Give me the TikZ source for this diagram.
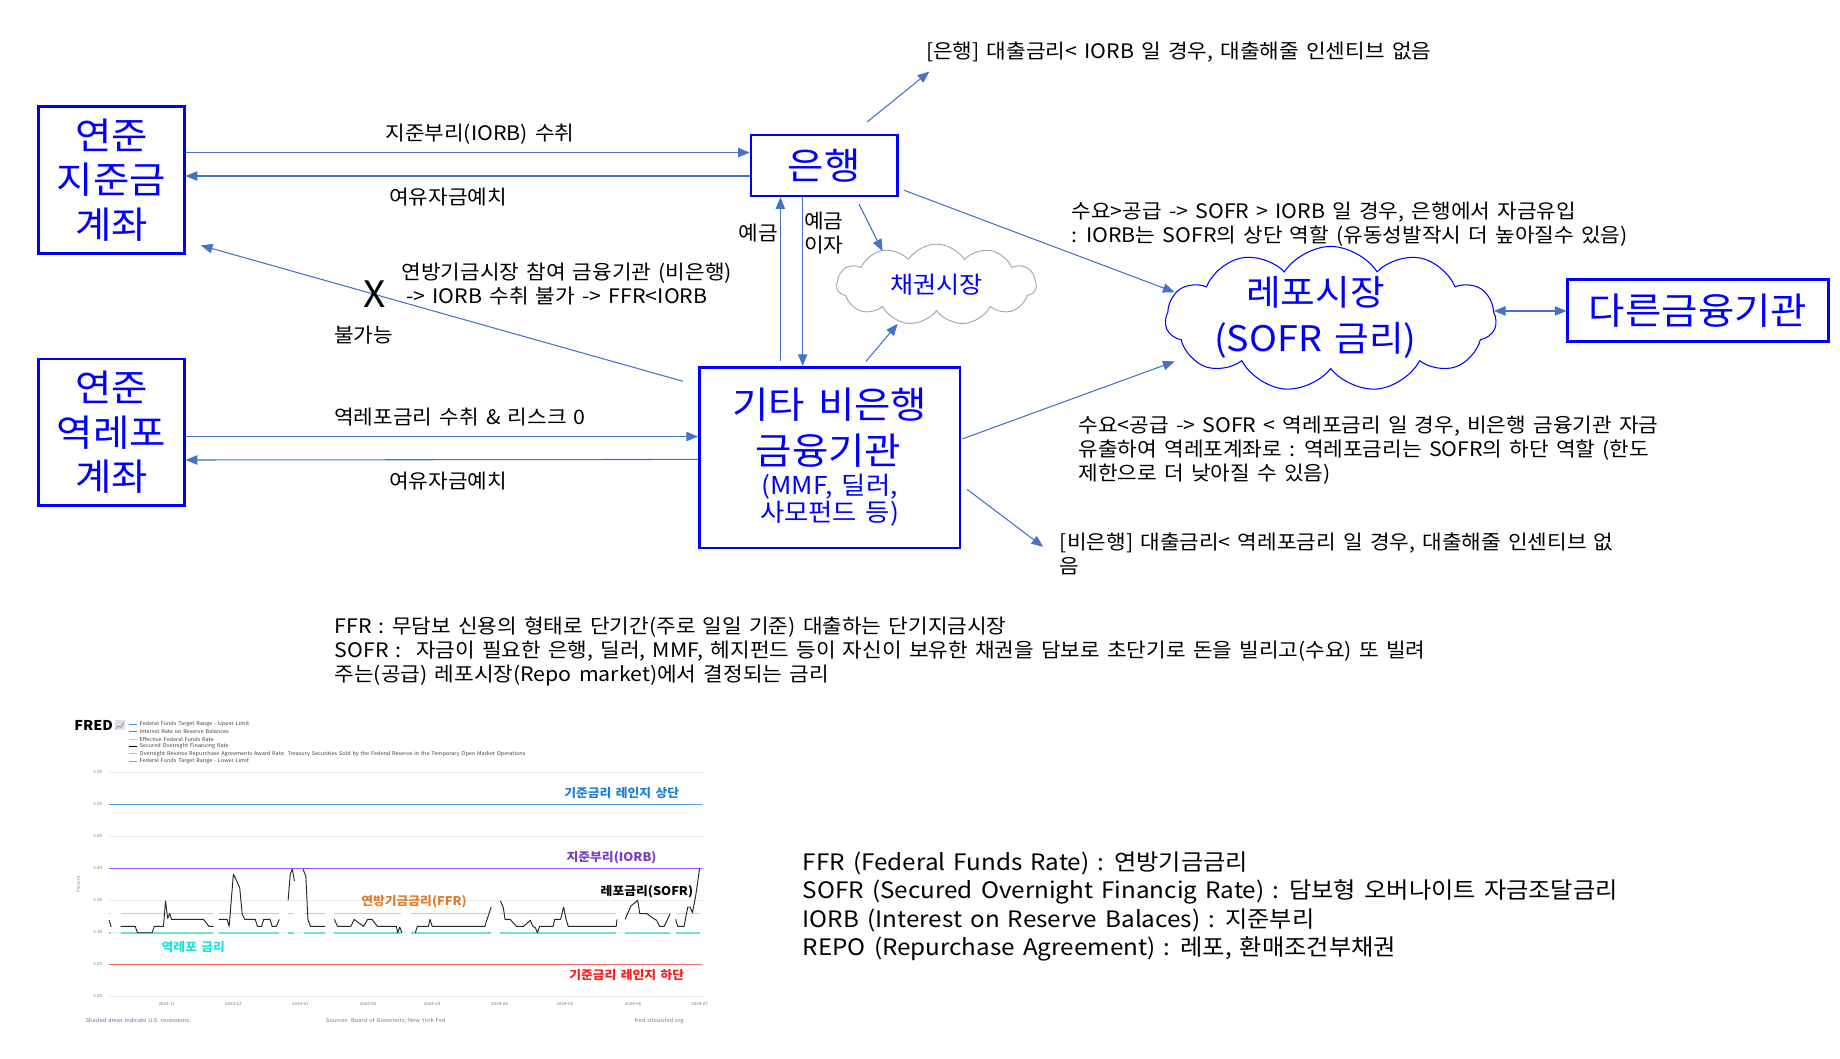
\documentclass[tikz,border=0pt]{standalone}
\usepackage{fontspec}
\setmainfont[FakeStretch=1.07,WordSpace=1.5]{Noto Sans CJK KR}
\usetikzlibrary{arrows.meta,shapes.symbols,calc}
\definecolor{boxblue}{HTML}{0000FF}
\definecolor{lnblue}{HTML}{4472C4}
\definecolor{cloudgray}{HTML}{A6A6A6}
\definecolor{cUpper}{HTML}{4A9BE8}
\definecolor{cIorb}{HTML}{A64DF5}
\definecolor{cFfr}{HTML}{FFC565}
\definecolor{cRrp}{HTML}{6FE3C8}
\definecolor{cLower}{HTML}{F46B6B}
\definecolor{tUpper}{HTML}{1E7ED8}
\definecolor{tIorb}{HTML}{7A3CC8}
\definecolor{tFfr}{HTML}{E07B2A}
\definecolor{tRrp}{HTML}{22E0E0}
\definecolor{tLower}{HTML}{FF1A1A}
\definecolor{gridc}{HTML}{E8ECF2}
\definecolor{axt}{HTML}{7A7A7A}
\definecolor{srcblue}{HTML}{4F73B0}
\begin{document}
\begin{tikzpicture}[x=1pt,y=-1pt,
  box/.style={draw=boxblue, line width=2.2pt, text=boxblue, align=center, inner sep=0pt},
  big/.style={font=\fontsize{31.5}{38}\selectfont},
  boxtxt/.style={text=boxblue, inner sep=0pt},
  conn/.style={draw=lnblue, line width=0.9pt, -{Triangle[length=10pt,width=8pt]}},
  conntwo/.style={draw=lnblue, line width=0.9pt, {Triangle[length=10pt,width=8pt]}-{Triangle[length=10pt,width=8pt]}},
  txt/.style={font=\fontsize{17}{20.5}\selectfont, inner sep=0pt, align=left},
  clbl/.style={font=\fontsize{10.2}{12}\selectfont\bfseries, inner sep=0pt},
  tiny/.style={font=\fontsize{4.4}{5}\selectfont, inner sep=0pt, text=black!75},
  axl/.style={font=\fontsize{3.6}{4}\selectfont, inner sep=0pt, text=axt},
  foot/.style={font=\fontsize{4.6}{5}\selectfont, inner sep=0pt},
  ser/.style={line width=1.4pt}
]
\useasboundingbox (0,0) rectangle (1568,902);
\fill[white] (0,0) rectangle (1568,902);

% boxes
\node[box, big, minimum width=124pt, minimum height=125pt] (fedA) at (95,153.5) {연준\\지준금\\계좌};
\node[box, big, minimum width=124pt, minimum height=125pt] (fedB) at (95,368.5) {연준\\역레포\\계좌};
\node[box, big, minimum width=125pt, minimum height=52pt] (bank) at (702.5,141) {은행};
\node[box, minimum width=222pt, minimum height=154pt] (nb) at (707,390) {};
\node[boxtxt, font=\fontsize{31.5}{38}\selectfont] (nbt1) at (707,345) {기타 비은행};
\node[boxtxt, font=\fontsize{31.5}{38}\selectfont] (nbt2) at (706,384) {금융기관};
\node[boxtxt, font=\fontsize{21}{24}\selectfont] (nbt3) at (707,415) {(MMF, 딜러,};
\node[boxtxt, font=\fontsize{21}{24}\selectfont] (nbt4) at (707,438) {사모펀드 등)};
\node[box, big, minimum width=222pt, minimum height=53pt] (other) at (1447,264.5) {다른금융기관};

% clouds
\node[cloud, draw=cloudgray, line width=0.8pt, cloud puffs=11, cloud puff arc=115, aspect=2.4,
  minimum width=170pt, minimum height=69pt, text=boxblue, font=\fontsize{20}{24}\selectfont, inner sep=0pt] (bond) at (798,242.5) {채권시장};
\node[cloud, draw=boxblue, line width=0.9pt, cloud puffs=11, cloud puff arc=115, aspect=2.3,
  minimum width=282pt, minimum height=124pt, inner sep=0pt] (repo) at (1134,272) {};
\node[boxtxt, align=center, font=\fontsize{30}{39}\selectfont] (repot) at (1121,270.5) {레포시장\\(SOFR 금리)};

% free-end coordinates
\coordinate (e10) at (792,61);
\coordinate (e13) at (889,466);

% connectors
\draw[conn] ([yshift=23.5pt]fedA.east) -- ([yshift=11pt]bank.west);
\draw[conn] ([yshift=-9pt]bank.west) -- ([yshift=3.5pt]fedA.east);
\draw[conn] ([xshift=-13pt,yshift=-13pt]nb.north west) -- ([xshift=13pt,yshift=8pt]fedA.south east);
\draw[conn] ([yshift=-3.5pt]fedB.east) -- ([yshift=18pt]nb.west);
\draw[conn] ([yshift=-1.5pt]nb.west) -- ([yshift=-23.5pt]fedB.east);
\draw[conn] ([xshift=-42pt,yshift=4pt]nb.north) -- ([xshift=-37.5pt]bank.south);
\draw[conn] ([xshift=-18.5pt]bank.south) -- ([xshift=-23pt]nb.north);
\draw[conn] ([xshift=-34pt,yshift=-6pt]bank.south east) -- ([xshift=-46pt,yshift=28.5pt]bond.center);
\draw[conn] ([xshift=31pt,yshift=4pt]nb.north) -- ([xshift=-33pt,yshift=-33.5pt]bond.center);
\draw[conn] ([xshift=36.5pt,yshift=10pt]bank.north) -- (e10);
\draw[conn] ([xshift=4pt,yshift=-21pt]bank.east) -- ([xshift=-133pt,yshift=23pt]repo.center);
\draw[conn] ([xshift=1pt,yshift=16pt]nb.east) -- ([xshift=-133pt,yshift=-36pt]repo.center);
\draw[conn] ([xshift=5pt,yshift=-27pt]nb.east) -- (e13);
\draw[conntwo] ([shift={(139pt,7pt)}]repo.center) -- ([yshift=-0.5pt]other.west);

% labels
\node[txt] (l1) at (409,114.5) {지준부리(IORB) 수취};
\node[txt] (l2) at (382,167.5) {여유자금예치};
\node[txt, anchor=base west] (l3) at (342,258.5) {연방기금시장 참여 금융기관 (비은행)\\\hspace*{4pt}-> IORB 수취 불가 -> FFR<IORB};
\node[font=\fontsize{31}{31}\selectfont, inner sep=0pt] (xmark) at (319,251) {X};
\node[txt] (l4) at (310,285.5) {불가능};
\node[txt] (l5) at (392,355.5) {역레포금리 수취 \& 리스크 0};
\node[txt] (l6) at (382,409.5) {여유자금예치};
\node[txt] (l7) at (646,198.5) {예금};
\node[txt, anchor=base west] (l8) at (685,215.5) {예금\\이자};
\node[txt, anchor=west] (t1) at (789,44.5) {[은행] 대출금리< IORB 일 경우, 대출해줄 인센티브 없음};
\node[txt, anchor=base west] (t2) at (913,206.5) {수요>공급 -> SOFR > IORB 일 경우, 은행에서 자금유입\\: IORB는 SOFR의 상단 역할 (유동성발작시 더 높아질수 있음)};
\node[txt, anchor=base west] (t3) at (919,409.5) {수요<공급 -> SOFR < 역레포금리 일 경우, 비은행 금융기관 자금\\유출하여 역레포계좌로 : 역레포금리는 SOFR의 하단 역할 (한도\\제한으로 더 낮아질 수 있음)};
\node[txt, anchor=base west] (t4) at (903,488.5) {[비은행] 대출금리< 역레포금리 일 경우, 대출해줄 인센티브 없\\음};
\node[txt, anchor=base west] (defs) at (285,580.5) {FFR : 무담보 신용의 형태로 단기간(주로 일일 기준) 대출하는 단기지금시장\\SOFR :\ \ 자금이 필요한 은행, 딜러, MMF, 헤지펀드 등이 자신이 보유한 채권을 담보로 초단기로 돈을 빌리고(수요) 또 빌려\\주는(공급) 레포시장(Repo market)에서 결정되는 금리};
\node[anchor=base west, font=\fontsize{19.3}{24.3}\selectfont, align=left, inner sep=0pt] (gloss) at (684,814.3) {FFR (Federal Funds Rate) : 연방기금금리\\SOFR (Secured Overnight Financig Rate) : 담보형 오버나이트 자금조달금리\\IORB (Interest on Reserve Balaces) : 지준부리\\REPO (Repurchase Agreement) : 레포, 환매조건부채권};

% chart
\begin{scope}[shift={(50.65,593.85)}, x={(0.3589pt,0pt)}, y={(0pt,-0.2851pt)}]
  \foreach \yy/\lab [count=\i] in {225/5.55,320.7/5.50,416.4/5.45,512.1/5.40,607.9/5.35,703.6/5.30,799.3/5.25,895/5.20} {
    \draw[gridc, line width=0.6pt] (118,\yy) -- (1530,\yy);
    \node[axl, anchor=east] (yl\i) at (102,\yy) {\lab};
  }
  \foreach \xx/\lab [count=\i] in {255/2023-11,413/2023-12,572/2024-01,733/2024-02,885/2024-03,1045/2024-04,1200/2024-05,1362/2024-06,1520/2024-07} {
    \node[axl] (xl\i) at (\xx,918) {\lab};
  }
  \node[axl, rotate=90] (pct) at (45,560) {Percent};
  % series
  \draw[ser, cUpper] (118,322) -- (1525,322);
  \draw[ser, cIorb] (118,513) -- (1525,513);
  \draw[ser, cLower] (118,800) -- (1525,800);
  \foreach \a/\b in {118/122,145/365,378/522,543/557,580/630,653/812,835/1025,1047/1322,1343/1450,1463/1520} {
    \draw[ser, cFfr] (\a,648) -- (\b,648);
    \draw[ser, cRrp] (\a,705) -- (\b,705);
  }
  \begin{scope}[line width=0.8pt, black!85, line join=round]
  \draw (118,668) -- (123,688);
  \draw (145,686) -- (180,686) -- (185,705) -- (220,705) -- (225,686) -- (247,686) -- (252,610) -- (257,662) -- (262,647) -- (266,665) -- (342,665) -- (355,686) -- (366,686);
  \draw (378,665) -- (398,665) -- (403,686) -- (413,530) -- (420,548) -- (428,570) -- (434,650) -- (440,665) -- (465,665) -- (470,686) -- (480,686) -- (485,665) -- (500,665) -- (505,686) -- (515,686) -- (522,665);
  \draw (543,608) -- (548,530) -- (553,515) -- (558,550);
  \draw (578,515) -- (585,535) -- (590,665) -- (596,686) -- (630,686);
  \draw (653,665) -- (660,686) -- (692,686) -- (700,665) -- (710,675) -- (722,686) -- (732,665) -- (742,665) -- (755,686) -- (800,686) -- (803,705) -- (808,688) -- (813,705);
  \draw (845,705) -- (850,686) -- (876,686) -- (880,665) -- (885,686) -- (1010,686) -- (1025,628);
  \draw (1047,610) -- (1054,630) -- (1058,665) -- (1070,665) -- (1085,686) -- (1102,686) -- (1118,668) -- (1124,686) -- (1130,690) -- (1135,705) -- (1140,686) -- (1172,686) -- (1176,665) -- (1190,665) -- (1197,628) -- (1203,665) -- (1208,686) -- (1322,686) -- (1324,665);
  \draw (1343,665) -- (1350,645) -- (1357,625) -- (1373,608) -- (1378,648) -- (1395,648) -- (1410,662) -- (1418,668) -- (1425,686) -- (1436,686) -- (1450,648);
  \draw (1463,665) -- (1468,686) -- (1483,686) -- (1492,628) -- (1497,628) -- (1503,645) -- (1510,600) -- (1520,513);
  \end{scope}
  % labels
  \node[clbl, text=tUpper] (lUpper) at (1335,288) {기준금리 레인지 상단};
  \node[clbl, text=tIorb] (lIorb) at (1311,480) {지준부리(IORB)};
  \node[clbl, text=black] (lSofr) at (1395,583) {레포금리(SOFR)};
  \node[clbl, text=tFfr] (lFfr) at (842,612) {연방기금금리(FFR)};
  \node[clbl, text=tRrp] (lRrp) at (318,748) {역레포 금리};
  \node[clbl, text=tLower] (lLower) at (1347,832) {기준금리 레인지 하단};
  % header / legend
  \node[font=\fontsize{11.5}{12}\selectfont\bfseries, anchor=west, inner sep=0pt] (fred) at (35,85) {FRED};
  \fill[black!12] (132,70) rectangle (155,98);
  \draw[srcblue, line width=0.4pt] (134,95) -- (140,88) -- (146,91) -- (153,76);
  \foreach \yy/\cc/\lab [count=\i] in {82/cUpper/Federal Funds Target Range - Upper Limit,104/cIorb/Interest Rate on Reserve Balances,126/cFfr/Effective Federal Funds Rate,148/black/Secured Overnight Financing Rate,170/cRrp/Overnight Reverse Repurchase Agreements Award Rate: Treasury Securities Sold by the Federal Reserve in the Temporary Open Market Operations,192/cLower/Federal Funds Target Range - Lower Limit} {
    \draw[\cc, line width=0.8pt] (165,\yy) -- (183,\yy);
    \node[tiny, anchor=west] (lg\i) at (190,\yy) {\lab};
  }
  % footer
  \node[foot, text=srcblue, anchor=west] (fshade) at (62,968) {Shaded areas indicate U.S. recessions.};
  \node[foot, text=axt, anchor=west] (fsrc) at (632,968) {Sources: Board of Governors; New York Fed};
  \node[foot, text=axt, anchor=west] (fweb) at (1365,968) {fred.stlouisfed.org};
\end{scope}
\end{tikzpicture}
\end{document}
